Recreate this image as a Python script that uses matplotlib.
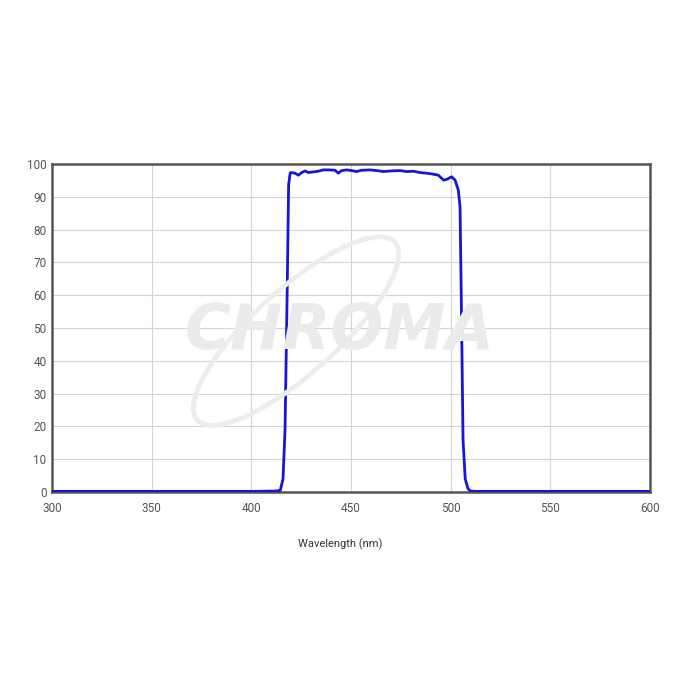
"""Chroma bandpass filter transmission curve (300-600 nm)."""

import matplotlib

matplotlib.use("Agg")
import matplotlib.pyplot as plt
from matplotlib.patches import Ellipse

# transmission spectrum
wavelength = [300, 350, 400, 412, 414.5, 415.9, 416.9, 417.9, 418.7, 419.4, 419.8,
              421.9, 423.6, 425.3, 426.9, 428.6, 431.1, 433.6, 436.1, 439.5,
              442.0, 443.6, 445.3, 447.8, 450.3, 452.8, 455.3, 459.5, 462.9,
              466.2, 470.4, 474.6, 477.9, 481.3, 484.6, 488.0, 491.3, 493.8,
              496.4, 498.0, 500.5, 502.2, 503.8, 504.7, 505.3, 506.2, 507.3,
              508.7, 510.0, 513, 550, 600]
transmission = [0.2, 0.2, 0.2, 0.3, 0.5, 4, 19, 58, 93.6, 97.0, 97.4,
                97.2, 96.6, 97.4, 97.9, 97.4, 97.6, 97.8, 98.2, 98.2,
                98.1, 97.2, 98.0, 98.2, 98.0, 97.7, 98.1, 98.2, 98.0,
                97.7, 97.9, 98.0, 97.7, 97.8, 97.4, 97.2, 96.9, 96.6,
                95.1, 95.3, 96.1, 95.1, 92.1, 87.0, 60, 15.8, 4,
                1.0, 0.3, 0.2, 0.2, 0.2]

x_ticks = [300, 350, 400, 450, 500, 550, 600]
y_ticks = [0, 10, 20, 30, 40, 50, 60, 70, 80, 90, 100]

plt.rcParams["font.family"] = ["Roboto", "DejaVu Sans"]

fig = plt.figure(figsize=(7, 7), dpi=100)
ax = fig.add_axes([0.0743, 0.2971, 0.8543, 0.4686])

# watermark logo
fig.patches.append(Ellipse((0.423, 0.527), 0.38, 0.12, angle=42,
                           transform=fig.transFigure, fill=False,
                           edgecolor="#ededed", lw=3.5, zorder=0))
fig.text(0.486, 0.526, "CHROMA", transform=fig.transFigure, ha="center",
         va="center", fontsize=45, fontweight="bold", style="italic",
         color="#ebebeb", family="DejaVu Sans", zorder=0)
ax.patch.set_alpha(0)

ax.plot(wavelength, transmission, color="#1616d4", lw=2, zorder=3)

ax.set_xlim(300, 600)
ax.set_ylim(0, 100)
ax.set_xticks(x_ticks)
ax.set_yticks(y_ticks)
ax.grid(True, color="#d4d4d4", lw=0.8)
ax.set_axisbelow(True)
ax.tick_params(length=0, labelsize=8.5, labelcolor="#555555")
ax.tick_params(axis="x", pad=7)
ax.tick_params(axis="y", pad=4)
for sp in ax.spines.values():
    sp.set_color("#555555")
    sp.set_linewidth(1.8)

fig.text(340 / 700, 1 - 544 / 700, "Wavelength (nm)", ha="center",
         va="center", fontsize=8, color="#333333")

fig.savefig("out.png", dpi=100)
plt.close(fig)
